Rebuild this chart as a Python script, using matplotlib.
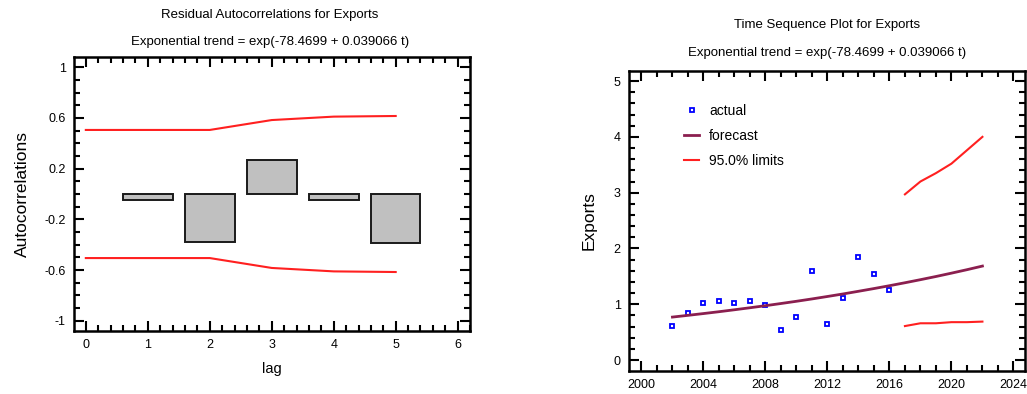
import numpy as np
import matplotlib
matplotlib.use("Agg")
import matplotlib.pyplot as plt
from matplotlib.ticker import MultipleLocator, FixedLocator

plt.rcParams['font.family'] = ['Liberation Sans', 'DejaVu Sans']

# residual autocorrelations
lags = [1, 2, 3, 4, 5]
acf = [-0.05, -0.375, 0.265, -0.05, -0.39]
lim_lags = [0, 1, 2, 3, 4, 5]
acf_upper = [0.505, 0.505, 0.505, 0.583, 0.61, 0.615]
acf_lower = [-0.505, -0.505, -0.505, -0.583, -0.61, -0.615]

# time sequence
years = [2002, 2003, 2004, 2005, 2006, 2007, 2008, 2009, 2010, 2011,
         2012, 2013, 2014, 2015, 2016]
exports = [0.61, 0.85, 1.02, 1.06, 1.02, 1.06, 0.99, 0.54, 0.78, 1.60,
           0.645, 1.12, 1.85, 1.535, 1.26]
fc_years = list(range(2002, 2023))
forecast = [0.771, 0.802, 0.834, 0.867, 0.902, 0.938, 0.975, 1.014, 1.054,
            1.096, 1.140, 1.185, 1.233, 1.282, 1.333, 1.386, 1.441, 1.498,
            1.558, 1.620, 1.685]
lim_years = [2017, 2018, 2019, 2020, 2021, 2022]
upper = [2.97, 3.20, 3.35, 3.52, 3.76, 4.00]
lower = [0.61, 0.66, 0.66, 0.68, 0.68, 0.69]

title_fs = 9.5
tick_fs = 9
xlabel_fs = 10.5
ylabel_fs = 12.5


def style_axes(ax):
    for s in ax.spines.values():
        s.set_linewidth(1.8)
    ax.tick_params(which='both', direction='in', top=True, right=True,
                   width=1.5, labelsize=tick_fs, pad=6)
    ax.tick_params(which='major', length=7)
    ax.tick_params(which='minor', length=4)


fig = plt.figure(figsize=(10.27, 3.94), dpi=100)

# left: residual autocorrelations
ax1 = fig.add_axes([0.0721, 0.1599, 0.3856, 0.6954])
ax1.bar(lags, acf, width=0.8, color='#c0c0c0', edgecolor='#1a1a1a', linewidth=1.4)
ax1.plot(lim_lags, acf_upper, color='#ff2020', lw=1.5)
ax1.plot(lim_lags, acf_lower, color='#ff2020', lw=1.5)
ax1.set_xlim(-0.19, 6.2)
ax1.set_ylim(-1.08, 1.08)
ax1.xaxis.set_major_locator(MultipleLocator(1))
ax1.xaxis.set_minor_locator(MultipleLocator(0.2))
ax1.yaxis.set_major_locator(FixedLocator([-1, -0.6, -0.2, 0.2, 0.6, 1]))
ax1.yaxis.set_minor_locator(MultipleLocator(0.1))
ax1.set_yticklabels(['-1', '-0.6', '-0.2', '0.2', '0.6', '1'])
ax1.set_xlabel('lag', fontsize=xlabel_fs, labelpad=8)
ax1.set_ylabel('Autocorrelations', fontsize=ylabel_fs, labelpad=10)
style_axes(ax1)
fig.text(0.263, 1 - 15 / 394, 'Residual Autocorrelations for Exports',
         ha='center', va='center', fontsize=title_fs)
fig.text(0.263, 1 - 42 / 394, 'Exponential trend = exp(-78.4699 + 0.039066 t)',
         ha='center', va='center', fontsize=title_fs)

# right: time sequence plot
ax2 = fig.add_axes([0.6125, 0.0591, 0.3856, 0.7607])
ax2.plot(years, exports, linestyle='none', marker='s', markersize=3.5,
         markerfacecolor='white', markeredgecolor='#0000ff', markeredgewidth=1.3,
         label='actual')
ax2.plot(fc_years, forecast, color='#8b1f4f', lw=2, label='forecast')
ax2.plot(lim_years, upper, color='#ff2020', lw=1.5, label='95.0% limits')
ax2.plot(lim_years, lower, color='#ff2020', lw=1.5)
ax2.set_xlim(1999.2, 2024.75)
ax2.set_ylim(-0.19, 5.18)
ax2.xaxis.set_major_locator(MultipleLocator(4))
ax2.xaxis.set_minor_locator(MultipleLocator(1))
ax2.yaxis.set_major_locator(MultipleLocator(1))
ax2.yaxis.set_minor_locator(MultipleLocator(0.2))
ax2.set_ylabel('Exports', fontsize=ylabel_fs, labelpad=12)
style_axes(ax2)
ax2.legend(loc='upper left', bbox_to_anchor=(0.139, 0.89), frameon=False,
           fontsize=10, handlelength=1.1, labelspacing=0.8,
           handletextpad=0.7, borderpad=0, borderaxespad=0)
fig.text(0.805, 1 - 25 / 394, 'Time Sequence Plot for Exports',
         ha='center', va='center', fontsize=title_fs)
fig.text(0.805, 1 - 53 / 394, 'Exponential trend = exp(-78.4699 + 0.039066 t)',
         ha='center', va='center', fontsize=title_fs)

fig.savefig('out.png', dpi=100)
